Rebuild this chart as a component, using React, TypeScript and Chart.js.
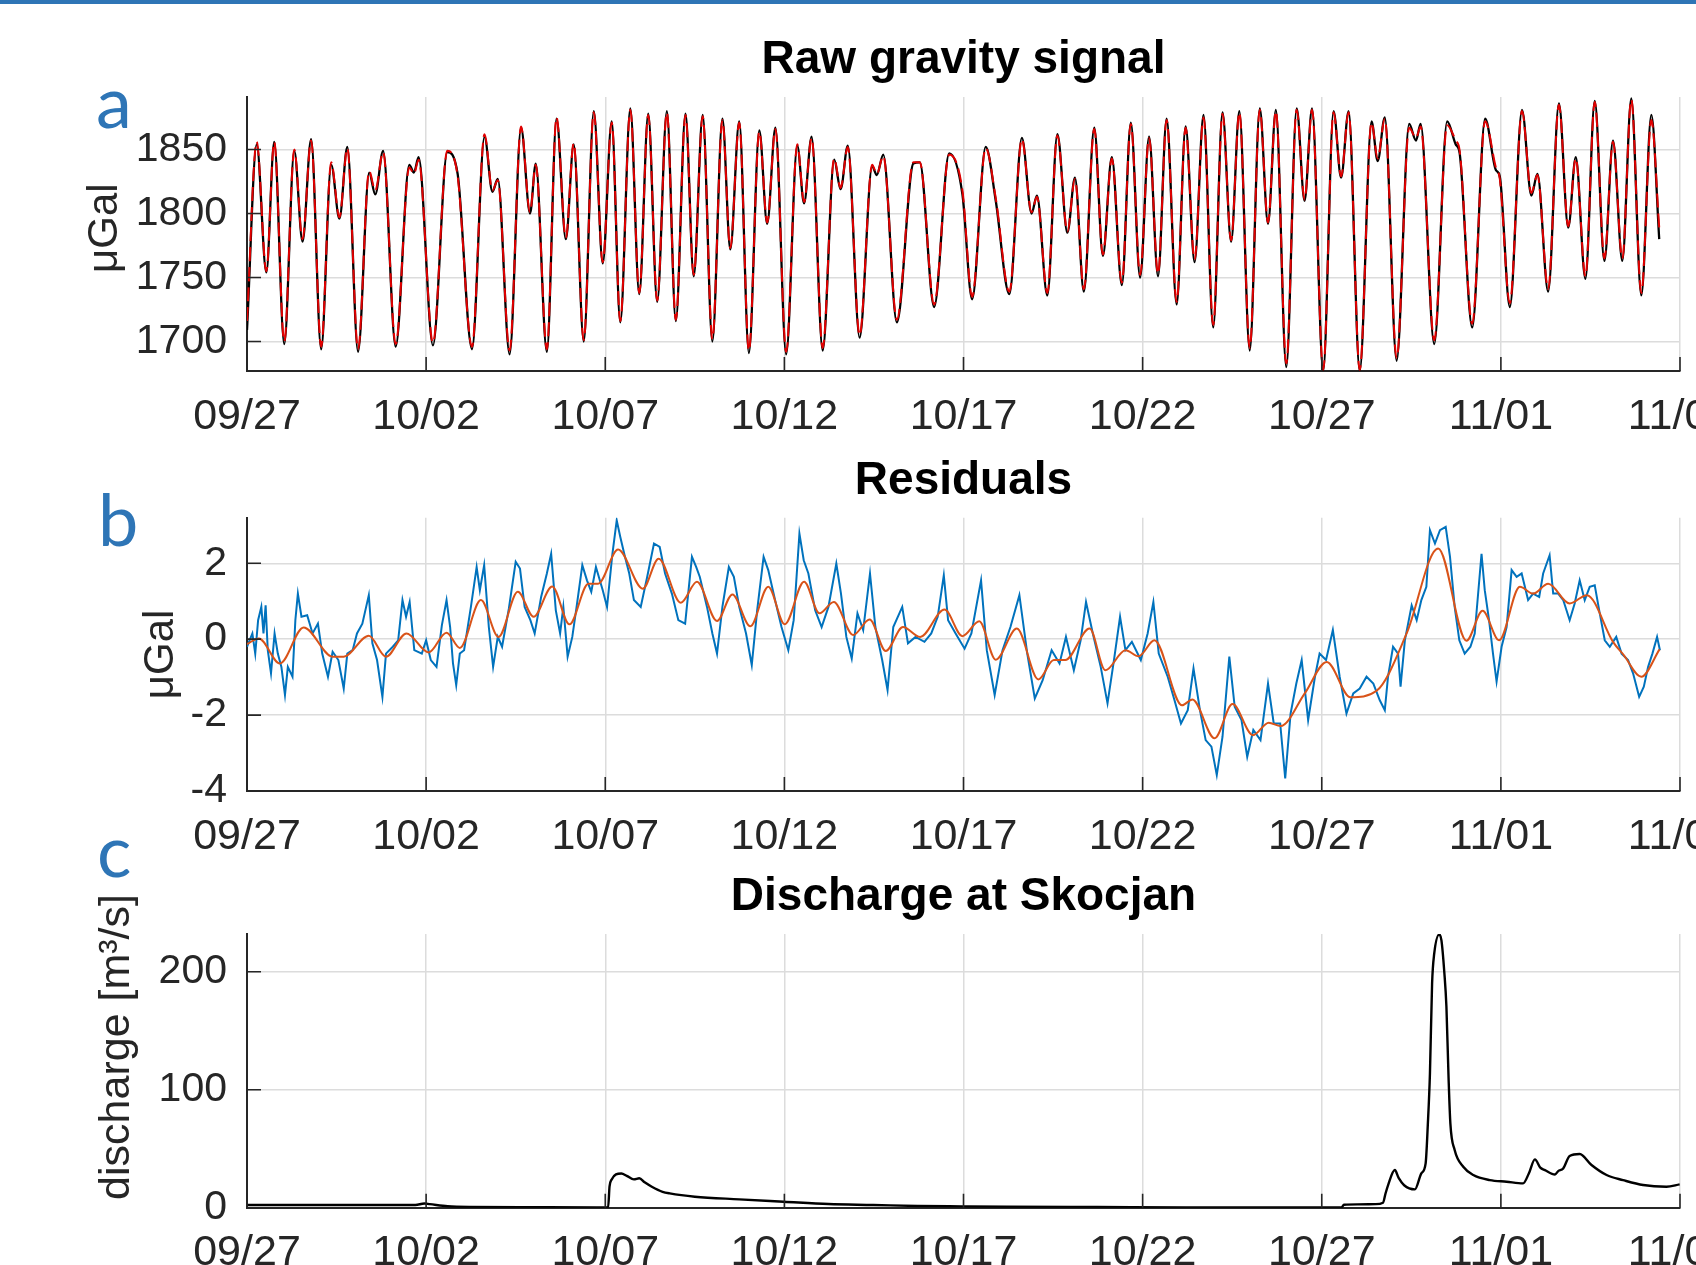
import React, { useEffect, useRef } from 'react';
import { Chart, registerables } from 'chart.js';

Chart.register(...registerables);

const FONT = '"Liberation Sans", Arial, Helvetica, sans-serif';
const INK = '#262626';
const GRID = '#dcdcdc';

// ---------- shared x axis (days since 09/27) ----------
const dateTickDays = [0, 5, 10, 15, 20, 25, 30, 35, 40];
const dateTickLabels = ['09/27', '10/02', '10/07', '10/12', '10/17', '10/22', '10/27', '11/01', '11/06'];

// ---------- panel a: raw gravity signal ----------
const gravityDays = [
  0.00, 0.27, 0.54, 0.76, 1.04, 1.32, 1.55, 1.79, 2.07, 2.35,
  2.58, 2.80, 3.10, 3.41, 3.58, 3.80, 4.15, 4.53, 4.66, 4.79,
  5.19, 5.59, 5.88, 6.28, 6.63, 6.85, 7.00, 7.33, 7.65, 7.90,
  8.06, 8.37, 8.64, 8.90, 9.12, 9.40, 9.68, 9.93, 10.18, 10.42,
  10.70, 10.95, 11.20, 11.45, 11.72, 11.97, 12.24, 12.47, 12.72, 12.99,
  13.27, 13.49, 13.74, 14.01, 14.30, 14.52, 14.75, 15.05, 15.36, 15.55,
  15.76, 16.07, 16.39, 16.57, 16.77, 17.10, 17.45, 17.58, 17.76, 18.14,
  18.60, 18.78, 19.18, 19.60, 19.97, 20.24, 20.62, 20.90, 21.28, 21.63,
  21.90, 22.05, 22.34, 22.62, 22.90, 23.11, 23.36, 23.65, 23.89, 24.14,
  24.42, 24.67, 24.93, 25.18, 25.43, 25.67, 25.95, 26.20, 26.45, 26.70,
  26.97, 27.23, 27.47, 27.70, 27.99, 28.27, 28.50, 28.72, 29.01, 29.30,
  29.52, 29.73, 30.04, 30.33, 30.54, 30.75, 31.06, 31.39, 31.56, 31.76,
  32.09, 32.44, 32.63, 32.76, 33.14, 33.50, 33.74, 33.85, 34.20, 34.56,
  34.86, 34.97, 35.25, 35.59, 35.85, 36.02, 36.32, 36.62, 36.88, 37.09,
  37.36, 37.62, 37.89, 38.13, 38.39, 38.64, 38.92, 39.20, 39.42,
];
const gravityObserved = [
  1709, 1854, 1754, 1856, 1698, 1849, 1778, 1858, 1694, 1838,
  1796, 1852, 1692, 1832, 1815, 1849, 1696, 1838, 1832, 1844,
  1697, 1848, 1831, 1694, 1860, 1817, 1827, 1690, 1867, 1800,
  1839, 1692, 1874, 1780, 1854, 1700, 1880, 1761, 1872, 1715,
  1882, 1737, 1878, 1731, 1880, 1716, 1878, 1751, 1877, 1700,
  1874, 1772, 1872, 1691, 1865, 1792, 1867, 1690, 1853, 1808,
  1860, 1693, 1842, 1819, 1853, 1703, 1837, 1830, 1846, 1715,
  1839, 1840, 1727, 1847, 1815, 1733, 1852, 1810, 1737, 1859,
  1800, 1814, 1736, 1862, 1785, 1828, 1739, 1867, 1767, 1844,
  1744, 1871, 1750, 1860, 1751, 1874, 1729, 1868, 1762, 1877,
  1711, 1879, 1778, 1880, 1693, 1882, 1792, 1881, 1680, 1882,
  1810, 1882, 1677, 1880, 1828, 1880, 1677, 1872, 1841, 1875,
  1685, 1870, 1857, 1870, 1698, 1872, 1854, 1847, 1711, 1874,
  1834, 1829, 1727, 1881, 1814, 1831, 1739, 1886, 1789, 1844,
  1749, 1888, 1763, 1857, 1763, 1890, 1736, 1877, 1780,
];
const gravityModel = [
  1716, 1856, 1755, 1856, 1700, 1850, 1780, 1857, 1696, 1840,
  1797, 1851, 1694, 1833, 1818, 1848, 1698, 1836, 1831, 1842,
  1699, 1849, 1829, 1696, 1862, 1818, 1826, 1693, 1868, 1801,
  1838, 1694, 1875, 1781, 1855, 1701, 1879, 1762, 1871, 1716,
  1881, 1738, 1877, 1732, 1879, 1717, 1877, 1752, 1876, 1702,
  1873, 1773, 1871, 1693, 1864, 1793, 1866, 1692, 1854, 1809,
  1859, 1695, 1843, 1820, 1852, 1705, 1838, 1831, 1845, 1717,
  1840, 1840, 1729, 1846, 1818, 1735, 1851, 1812, 1739, 1858,
  1801, 1813, 1738, 1861, 1786, 1827, 1741, 1866, 1768, 1843,
  1746, 1870, 1752, 1859, 1753, 1873, 1731, 1867, 1764, 1875,
  1713, 1878, 1779, 1879, 1695, 1881, 1793, 1880, 1683, 1881,
  1811, 1881, 1678, 1879, 1829, 1879, 1678, 1871, 1843, 1874,
  1687, 1867, 1859, 1868, 1701, 1869, 1857, 1849, 1714, 1872,
  1836, 1827, 1730, 1880, 1816, 1830, 1741, 1885, 1790, 1843,
  1751, 1887, 1765, 1856, 1765, 1889, 1738, 1873, 1789,
];
const gravityTicks = [1700, 1750, 1800, 1850];

// ---------- panel b: residuals ----------
const residualDays = [
  0.00, 0.15, 0.23, 0.31, 0.40, 0.46, 0.52, 0.58, 0.67, 0.77,
  0.86, 0.96, 1.06, 1.14, 1.27, 1.35, 1.42, 1.52, 1.68, 1.83,
  1.98, 2.10, 2.26, 2.39, 2.55, 2.70, 2.80, 2.95, 3.07, 3.22,
  3.40, 3.50, 3.63, 3.78, 3.88, 4.07, 4.22, 4.34, 4.44, 4.54,
  4.67, 4.88, 5.00, 5.13, 5.29, 5.44, 5.57, 5.67, 5.75, 5.84,
  5.94, 6.06, 6.25, 6.41, 6.50, 6.62, 6.75, 6.87, 7.00, 7.12,
  7.31, 7.50, 7.62, 7.75, 7.91, 8.03, 8.21, 8.37, 8.49, 8.62,
  8.74, 8.83, 8.95, 9.08, 9.20, 9.36, 9.49, 9.61, 9.74, 9.93,
  10.05, 10.20, 10.32, 10.42, 10.55, 10.67, 10.80, 10.99, 11.17, 11.36,
  11.52, 11.67, 11.86, 12.04, 12.23, 12.42, 12.54, 12.64, 12.84, 12.99,
  13.12, 13.27, 13.45, 13.59, 13.74, 13.93, 14.09, 14.24, 14.42, 14.55,
  14.74, 14.92, 15.11, 15.26, 15.42, 15.54, 15.67, 15.86, 16.04, 16.23,
  16.45, 16.58, 16.73, 16.88, 17.04, 17.20, 17.39, 17.54, 17.73, 17.88,
  18.04, 18.29, 18.45, 18.66, 18.91, 19.10, 19.28, 19.45, 19.57, 19.78,
  20.03, 20.22, 20.49, 20.65, 20.87, 21.09, 21.31, 21.56, 21.78, 21.99,
  22.21, 22.46, 22.68, 22.86, 23.08, 23.27, 23.42, 23.61, 23.83, 24.02,
  24.20, 24.37, 24.52, 24.70, 24.95, 25.14, 25.30, 25.45, 25.70, 25.89,
  26.07, 26.26, 26.42, 26.60, 26.76, 26.92, 27.07, 27.23, 27.42, 27.57,
  27.76, 27.92, 28.09, 28.29, 28.50, 28.66, 28.84, 28.98, 29.13, 29.29,
  29.44, 29.62, 29.81, 29.94, 30.12, 30.31, 30.50, 30.69, 30.88, 31.06,
  31.25, 31.44, 31.62, 31.76, 31.85, 31.99, 32.13, 32.20, 32.32, 32.51,
  32.65, 32.78, 32.92, 33.02, 33.16, 33.30, 33.46, 33.58, 33.71, 33.84,
  33.99, 34.15, 34.27, 34.46, 34.55, 34.67, 34.78, 34.88, 35.02, 35.16,
  35.30, 35.44, 35.58, 35.76, 35.90, 36.07, 36.18, 36.36, 36.46, 36.60,
  36.74, 36.92, 37.06, 37.20, 37.34, 37.48, 37.62, 37.76, 37.90, 38.04,
  38.22, 38.37, 38.55, 38.69, 38.86, 38.99, 39.11, 39.23, 39.36, 39.44,
];
const residualValues = [
  -0.20, 0.15, -0.38, 0.50, 0.85, 0.15, 0.89, -0.29, -0.90, 0.15,
  -0.38, -0.73, -1.47, -0.73, -0.99, 0.50, 1.20, 0.59, 0.63, 0.15,
  0.41, -0.38, -0.99, -0.33, -0.55, -1.30, -0.38, -0.29, 0.15, 0.41,
  1.16, -0.11, -0.55, -1.52, -0.38, -0.20, -0.03, 1.03, 0.59, 0.98,
  -0.29, -0.38, -0.03, -0.55, -0.73, 0.37, 1.03, 0.32, -0.64, -1.21,
  -0.38, -0.29, 0.85, 1.90, 1.29, 1.95, 0.32, -0.73, 0.06, -0.20,
  0.81, 2.04, 1.86, 0.85, 0.50, 0.15, 1.11, 1.73, 2.25, 0.76,
  0.15, 0.85, -0.46, 0.06, 0.85, 1.95, 1.55, 1.25, 1.90, 1.29,
  0.85, 2.25, 3.13, 2.69, 2.17, 1.73, 1.03, 0.85, 1.64, 2.52,
  2.43, 1.73, 1.20, 0.50, 0.41, 2.17, 1.90, 1.64, 0.85, 0.15,
  -0.38, 0.85, 1.90, 1.64, 0.85, 0.15, -0.68, 0.76, 2.17, 1.82,
  1.03, 0.32, -0.29, 0.50, 2.78, 2.08, 1.73, 0.76, 0.32, 0.85,
  1.99, 1.20, 0.06, -0.51, 0.68, 0.24, 1.73, 0.32, -0.55, -1.34,
  0.32, 0.85, -0.11, 0.06, -0.07, 0.15, 0.59, 1.68, 0.50, 0.15,
  -0.25, 0.15, 1.55, -0.29, -1.47, -0.29, 0.32, 1.16, -0.38, -1.56,
  -1.08, -0.29, -0.64, 0.06, -0.82, -0.03, 0.98, 0.15, -0.73, -1.69,
  -0.55, 0.59, -0.29, -0.07, -0.55, 0.15, 0.98, -0.38, -0.99, -1.61,
  -2.22, -1.87, -0.77, -1.87, -2.66, -2.83, -3.58, -2.57, -0.46, -1.78,
  -2.13, -3.10, -2.39, -2.66, -1.17, -2.22, -2.22, -3.67, -1.96, -1.17,
  -0.55, -2.13, -0.99, -0.38, -0.55, 0.24, -0.99, -1.96, -1.43, -1.30,
  -0.99, -1.17, -1.61, -1.87, -0.99, -0.20, -0.38, -1.25, -0.03, 0.89,
  0.50, 1.03, 1.38, 2.87, 2.52, 2.87, 2.96, 2.17, 0.85, -0.03,
  -0.38, -0.20, 0.15, 2.25, 1.29, 0.50, -0.38, -1.12, -0.20, 0.32,
  1.82, 1.64, 1.73, 1.03, 1.20, 1.11, 1.73, 2.21, 1.20, 1.20,
  1.03, 0.50, 0.94, 1.55, 1.03, 1.38, 1.42, 0.68, -0.03, -0.20,
  0.06, -0.38, -0.55, -0.90, -1.52, -1.25, -0.73, -0.38, 0.06, -0.29,
];
const smoothDays = [
  0.00, 0.33, 0.92, 1.58, 2.39, 2.70, 3.40, 3.88, 4.45, 5.07,
  5.57, 5.94, 6.53, 7.02, 7.56, 8.00, 8.52, 9.00, 9.53, 9.80,
  10.36, 11.05, 11.49, 12.11, 12.56, 13.12, 13.55, 14.05, 14.55, 15.01,
  15.55, 15.98, 16.38, 16.92, 17.38, 17.83, 18.31, 18.79, 19.47, 19.97,
  20.44, 20.90, 21.49, 22.09, 22.52, 22.84, 23.52, 23.96, 24.52, 24.89,
  25.33, 26.10, 26.39, 27.01, 27.51, 28.08, 28.52, 28.85, 29.53, 30.14,
  30.80, 31.53, 32.37, 33.25, 34.04, 34.49, 34.95, 35.53, 35.90, 36.32,
  36.92, 37.40, 38.13, 38.43, 38.92, 39.43,
];
const smoothValues = [
  -0.13, 0.02, -0.64, 0.31, -0.46, -0.46, 0.09, -0.46, 0.15, -0.35,
  0.17, -0.23, 1.03, 0.06, 1.25, 0.59, 1.39, 0.39, 1.46, 1.46,
  2.36, 1.33, 2.12, 0.96, 1.51, 0.48, 1.18, 0.34, 1.38, 0.39,
  1.51, 0.68, 0.98, 0.11, 0.52, -0.31, 0.32, 0.06, 0.78, 0.08,
  0.47, -0.54, 0.28, -1.06, -0.55, -0.55, 0.28, -0.82, -0.29, -0.45,
  -0.03, -1.74, -1.59, -2.61, -1.71, -2.53, -2.20, -2.29, -1.42, -0.60,
  -1.53, -1.36, 0.15, 2.39, -0.04, 0.75, -0.03, 1.38, 1.20, 1.46,
  0.94, 1.16, -0.07, -0.42, -0.99, -0.27,
];
const residualTicks = [-4, -2, 0, 2];

// ---------- panel c: discharge ----------
const dischargeDays = [
  0.00, 2.50, 4.70, 4.95, 5.10, 5.60, 6.20, 8.00, 10.00, 10.08,
  10.12, 10.18, 10.30, 10.45, 10.60, 10.80, 10.95, 11.10, 11.30, 11.60,
  11.80, 12.50, 13.74, 14.98, 16.23, 17.48, 18.72, 19.97, 21.21, 23.71,
  26.20, 30.00, 30.55, 30.62, 31.00, 31.50, 31.71, 31.78, 31.85, 32.04,
  32.15, 32.30, 32.60, 32.78, 32.90, 32.96, 33.02, 33.08, 33.14, 33.28,
  33.34, 33.42, 33.48, 33.54, 33.59, 33.71, 33.95, 34.23, 34.69, 35.16,
  35.62, 35.78, 35.95, 36.10, 36.23, 36.51, 36.60, 36.74, 36.92, 37.20,
  37.53, 37.95, 38.41, 38.97, 39.62, 39.99,
];
const dischargeValues = [
  2.3, 2.3, 2.3, 3.5, 3.0, 1.2, 0.6, 0.4, 0.3, 0.4,
  18.0, 24.0, 28.2, 29.0, 27.0, 24.0, 24.9, 21.5, 17.8, 13.5,
  12.1, 9.3, 7.1, 5.1, 3.1, 2.3, 1.4, 1.1, 0.85, 0.6,
  0.3, 0.2, 0.3, 2.5, 2.8, 3.0, 4.2, 12.0, 19.0, 31.9,
  25.0, 19.0, 15.5, 29.1, 37.6, 70.0, 113.8, 190.0, 215.5, 231.6,
  226.8, 200.0, 170.3, 110.0, 71.5, 48.9, 34.7, 27.7, 23.4, 22.0,
  20.6, 29.0, 41.0, 34.0, 31.9, 28.2, 31.0, 33.3, 43.8, 45.5,
  36.2, 27.7, 23.4, 19.2, 17.8, 19.8,
];
const dischargeTicks = [0, 100, 200];

// ---------- layout constants ----------
const CANVAS_W = 1760;
const AXIS_LEFT = 247;
const AXIS_RIGHT = 1680;
const X_AXIS_H = 80;
const TITLE_SIZE = 46;
const TITLE_GAP = 9;

const pts = (xs: number[], ys: number[]) => xs.map((x, i) => ({ x, y: ys[i] }));

const inwardTicks = {
  id: 'inwardTicks',
  afterDatasetsDraw(chart: any) {
    const { ctx, chartArea } = chart;
    const xs = chart.scales.x;
    const ys = chart.scales.y;
    ctx.save();
    ctx.strokeStyle = INK;
    ctx.lineWidth = 1.6;
    ctx.beginPath();
    xs.ticks.forEach((t: any) => {
      const px = xs.getPixelForValue(t.value);
      ctx.moveTo(px, chartArea.bottom);
      ctx.lineTo(px, chartArea.bottom - 14);
    });
    ys.ticks.forEach((t: any) => {
      const py = ys.getPixelForValue(t.value);
      ctx.moveTo(chartArea.left, py);
      ctx.lineTo(chartArea.left + 14, py);
    });
    ctx.stroke();
    ctx.restore();
  },
};

type Panel = {
  top: number;
  height: number;
  chartTop: number;
  chartBottom: number;
  padLeft: number;
  title: string;
  yTitle: string;
  yTitleSize: number;
  yMin: number;
  yMax: number;
  yTicks: number[];
  datasets: any[];
};

const panels: Panel[] = [
  {
    top: 20, height: 431, chartTop: 97, chartBottom: 371, padLeft: 80,
    title: 'Raw gravity signal', yTitle: ' μGal', yTitleSize: 42,
    yMin: 1677, yMax: 1891, yTicks: gravityTicks,
    datasets: [
      { data: pts(gravityDays, gravityModel), borderColor: '#e00000', borderWidth: 2, borderDash: [14, 6], cubicInterpolationMode: 'monotone', order: 0 },
      { data: pts(gravityDays, gravityObserved), borderColor: '#000000', borderWidth: 2.3, cubicInterpolationMode: 'monotone', order: 1 },
    ],
  },
  {
    top: 441, height: 430, chartTop: 517.7, chartBottom: 791, padLeft: 136,
    title: 'Residuals', yTitle: 'μGal', yTitleSize: 42,
    yMin: -4, yMax: 3.2, yTicks: residualTicks,
    datasets: [
      { data: pts(smoothDays, smoothValues), borderColor: '#D95319', borderWidth: 2, cubicInterpolationMode: 'monotone', order: 0 },
      { data: pts(residualDays, residualValues), borderColor: '#0072BD', borderWidth: 2, tension: 0, order: 1 },
    ],
  },
  {
    top: 857, height: 431, chartTop: 934, chartBottom: 1207.7, padLeft: 91,
    title: 'Discharge at Skocjan', yTitle: '    discharge [m³/s]', yTitleSize: 43,
    yMin: 0, yMax: 232, yTicks: dischargeTicks,
    datasets: [
      { data: pts(dischargeDays, dischargeValues), borderColor: '#000000', borderWidth: 2.4, cubicInterpolationMode: 'monotone', order: 0 },
    ],
  },
];

function buildConfig(p: Panel): any {
  const titleBox = TITLE_SIZE * 1.2 + TITLE_GAP;
  return {
    type: 'line',
    data: { datasets: p.datasets.map((d) => ({ ...d, pointRadius: 0, fill: false })) },
    options: {
      responsive: false,
      animation: false,
      devicePixelRatio: 1,
      events: [],
      layout: {
        padding: {
          left: p.padLeft,
          right: CANVAS_W - AXIS_RIGHT,
          top: p.chartTop - p.top - titleBox,
          bottom: p.height - X_AXIS_H - (p.chartBottom - p.top),
        },
      },
      plugins: {
        legend: { display: false },
        tooltip: { enabled: false },
        title: {
          display: true,
          text: p.title,
          color: '#000000',
          fullSize: false,
          font: { family: FONT, size: TITLE_SIZE, weight: 'bold', lineHeight: 1.2 },
          padding: { top: 0, bottom: TITLE_GAP },
        },
      },
      scales: {
        x: {
          type: 'linear',
          min: 0,
          max: 40,
          afterBuildTicks: (s: any) => {
            s.ticks = dateTickDays.map((v) => ({ value: v }));
          },
          afterFit: (s: any) => {
            s.height = X_AXIS_H;
          },
          ticks: {
            autoSkip: false,
            maxRotation: 0,
            padding: 20,
            color: INK,
            font: { family: FONT, size: 43 },
            callback: (v: any) => {
              const i = dateTickDays.indexOf(Number(v));
              return i >= 0 ? dateTickLabels[i] : '';
            },
          },
          grid: { color: GRID, lineWidth: 1.5, drawTicks: false },
          border: { display: true, color: INK, width: 2 },
        },
        y: {
          type: 'linear',
          min: p.yMin,
          max: p.yMax,
          afterBuildTicks: (s: any) => {
            s.ticks = p.yTicks.map((v) => ({ value: v }));
          },
          afterFit: (s: any) => {
            s.width = AXIS_LEFT - p.padLeft;
          },
          ticks: {
            padding: 20,
            color: INK,
            font: { family: FONT, size: 41 },
            callback: (v: any) => String(v),
          },
          grid: { color: GRID, lineWidth: 1.5, drawTicks: false },
          border: { display: true, color: INK, width: 2 },
          title: {
            display: true,
            text: p.yTitle,
            color: INK,
            font: { family: FONT, size: p.yTitleSize, lineHeight: 1.2 },
            padding: { top: 0, bottom: 0 },
          },
        },
      },
    },
    plugins: [inwardTicks],
  };
}

function PanelCanvas({ panel }: { panel: Panel }) {
  const ref = useRef<HTMLCanvasElement | null>(null);
  useEffect(() => {
    if (!ref.current) return;
    const chart = new Chart(ref.current, buildConfig(panel));
    return () => chart.destroy();
  }, [panel]);
  return (
    <canvas
      ref={ref}
      width={CANVAS_W}
      height={panel.height}
      style={{ position: 'absolute', left: 0, top: panel.top, width: CANVAS_W, height: panel.height, display: 'block' }}
    />
  );
}

const letterStyle: React.CSSProperties = {
  position: 'absolute',
  fontFamily: 'Lato, "Open Sans", sans-serif',
  fontSize: 72,
  lineHeight: 1,
  color: '#2e75b6',
};

export default function App() {
  return (
    <div style={{ position: 'absolute', left: 0, top: 0, width: 1696, height: 1265, overflow: 'hidden', background: '#ffffff' }}>
      {panels.map((p, i) => (
        <PanelCanvas key={i} panel={p} />
      ))}
      <div style={{ position: 'absolute', left: 0, top: 0, width: 1696, height: 4, background: '#2e75b6' }} />
      <div style={{ ...letterStyle, left: 96, top: 64 }}>a</div>
      <div style={{ ...letterStyle, left: 98, top: 482 }}>b</div>
      <div style={{ ...letterStyle, left: 97, top: 813 }}>c</div>
    </div>
  );
}
